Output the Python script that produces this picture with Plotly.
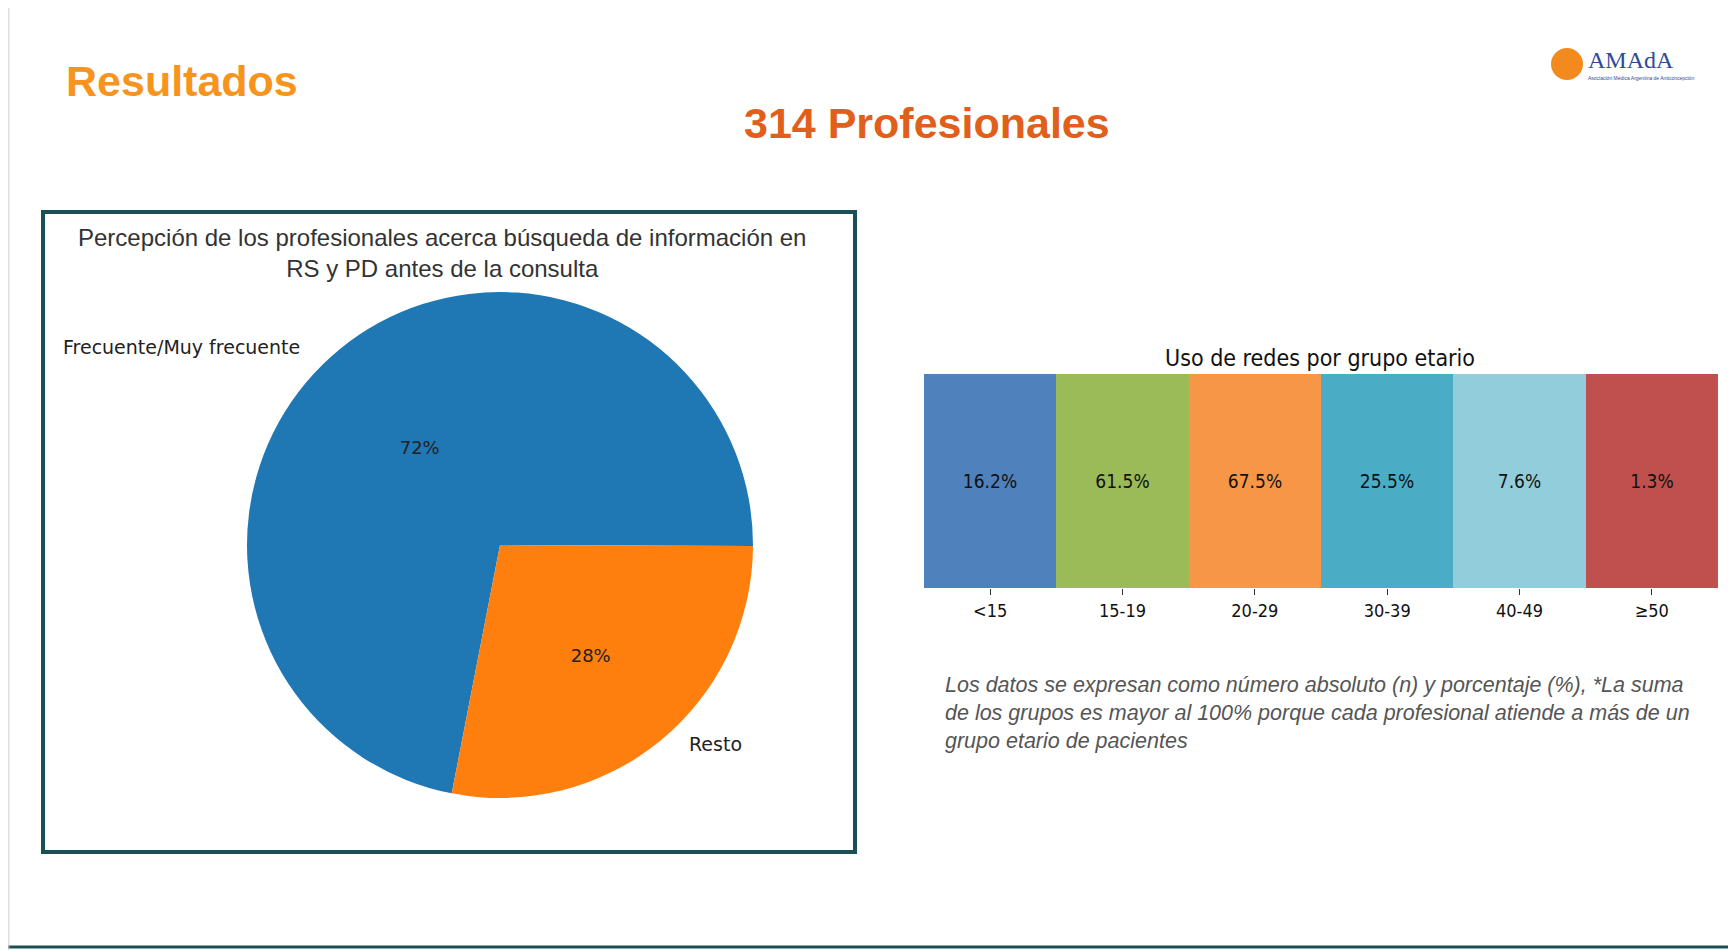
import plotly.graph_objects as go

pie_labels = ["Frecuente/Muy frecuente", "Resto"]
pie_values = [72, 28]
pie_colors = ["#1F77B4", "#FF7F0E"]

age_groups = ["<15", "15-19", "20-29", "30-39", "40-49", "≥50"]
age_pct = [16.2, 61.5, 67.5, 25.5, 7.6, 1.3]
age_colors = ["#4F81BD", "#9BBB59", "#F79646", "#4BACC6", "#92CDDC", "#C0504D"]

W, H = 1736, 950
def px(x): return x / W
def py(y): return 1 - y / H

fig = go.Figure()
fig.add_trace(go.Pie(
    labels=pie_labels, values=pie_values, marker=dict(colors=pie_colors),
    sort=False, direction="clockwise", rotation=191,
    textinfo="percent", textposition="inside", insidetextorientation="horizontal",
    texttemplate="%{percent:.0%}",
    textfont=dict(family="DejaVu Sans", size=18, color="#222"),
    domain=dict(x=[px(235), px(749)], y=[py(790), py(284)]),
    showlegend=False, hoverinfo="label+percent"))

fig.add_trace(go.Bar(
    x=age_groups, y=[1] * len(age_groups), marker=dict(color=age_colors, line=dict(width=0)),
    text=[f"{v}%" for v in age_pct], textposition="inside", insidetextanchor="middle",
    textfont=dict(family="DejaVu Sans Condensed, DejaVu Sans", size=19, color="#111"),
    showlegend=False, xaxis="x", yaxis="y", width=1))

fig.update_layout(
    width=W, height=H, margin=dict(l=0, r=0, t=0, b=0),
    paper_bgcolor="white", plot_bgcolor="white", bargap=0,
    xaxis=dict(domain=[px(916), px(1710)], anchor="y", showgrid=False, zeroline=False,
               ticks="outside", ticklen=6, tickcolor="#333", showline=False,
               tickfont=dict(family="DejaVu Sans Condensed, DejaVu Sans", size=18, color="#111")),
    yaxis=dict(domain=[py(580), py(366)], range=[0, 1], visible=False),
    font=dict(family="Liberation Sans"),
)

shapes = [
    dict(type="rect", xref="paper", yref="paper", x0=px(35), x1=px(847), y0=py(844), y1=py(204),
         line=dict(color="#1B4F57", width=4)),
    dict(type="line", xref="paper", yref="paper", x0=0, x1=1, y0=py(939), y1=py(939),
         line=dict(color="#1B4F57", width=3)),
    dict(type="line", xref="paper", yref="paper", x0=0.0005, x1=0.0005, y0=0, y1=1,
         line=dict(color="#CCCCCC", width=1)),
    dict(type="circle", xref="paper", yref="paper", x0=px(1543), x1=px(1575), y0=py(72), y1=py(40),
         fillcolor="#F28A1E", line=dict(width=0)),
]
fig.update_layout(shapes=shapes)

ann = [
    dict(text="<b>Resultados</b>", x=px(56), y=py(73), xanchor="left", yanchor="middle",
         font=dict(size=43, color="#F7941D", family="Liberation Sans")),
    dict(text="<b>314 Profesionales</b>", x=px(919), y=py(115), xanchor="center", yanchor="middle",
         font=dict(size=43, color="#E0601B", family="Liberation Sans")),
    dict(text="Percepción de los profesionales acerca búsqueda de información en<br>RS y PD antes de la consulta",
         x=px(434), y=py(245), xanchor="center", yanchor="middle",
         font=dict(size=24, color="#333", family="Liberation Sans")),
    dict(text=pie_labels[0], x=px(53), y=py(339), xanchor="left", yanchor="middle",
         font=dict(size=19, color="#222", family="DejaVu Sans")),
    dict(text=pie_labels[1], x=px(707), y=py(736), xanchor="center", yanchor="middle",
         font=dict(size=19, color="#222", family="DejaVu Sans")),
    dict(text="Uso de redes por grupo etario", x=px(1312), y=py(350), xanchor="center", yanchor="middle",
         font=dict(size=23, color="#111", family="DejaVu Sans Condensed, DejaVu Sans")),
    dict(text="<i>Los datos se expresan como número absoluto (n) y porcentaje (%), *La suma<br>"
              "de los grupos es mayor al 100% porque cada profesional atiende a más de un<br>"
              "grupo etario de pacientes</i>",
         x=px(935), y=py(705), xanchor="left", yanchor="middle", align="left",
         font=dict(size=21.5, color="#555", family="Liberation Sans")),
    dict(text="AMAdA", x=px(1578), y=py(52), xanchor="left", yanchor="middle",
         font=dict(size=24, color="#2E4A9A", family="Liberation Serif")),
    dict(text="Asociación Médica Argentina de Anticoncepción", x=px(1578), y=py(70), xanchor="left",
         yanchor="middle", font=dict(size=5, color="#2E4A9A", family="Liberation Sans")),
]
for a in ann:
    a.update(xref="paper", yref="paper", showarrow=False)
fig.update_layout(annotations=ann)

fig.write_html("out.html")
